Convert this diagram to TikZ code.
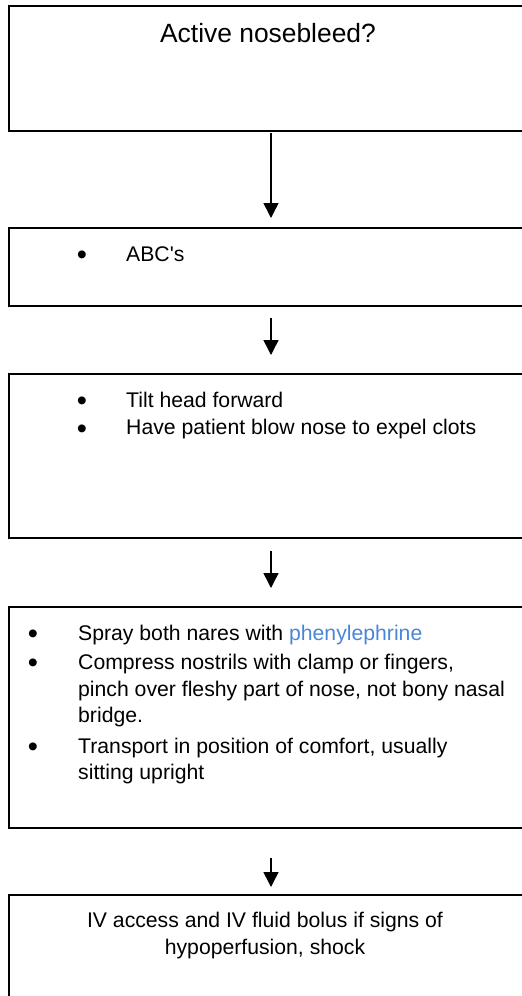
\documentclass[tikz,border=0pt]{standalone}
\usepackage{fontspec}
\setmainfont{Liberation Sans}[Ligatures=TeXOff]
\usetikzlibrary{arrows.meta}
\definecolor{linkblue}{RGB}{74,134,216}
\tikzset{
  flowbox/.style={draw=black, line width=1.5pt, rectangle, inner sep=0pt, minimum width=522pt},
  body/.style={inner sep=0pt, font=\fontsize{21.2}{26}\selectfont, anchor=base west},
  bodyc/.style={inner sep=0pt, font=\fontsize{21.2}{26}\selectfont, anchor=base},
  titletext/.style={inner sep=0pt, font=\fontsize{26.4}{30}\selectfont, anchor=base},
  bul/.style={inner sep=0pt, font=\fontsize{29}{30}\selectfont, anchor=base, yshift=-3.5pt},
  flowarrow/.style={line width=1.5pt, -{Triangle[width=15pt,length=15pt]}}
}
\begin{document}
\begin{tikzpicture}[x=1pt,y=-1pt]
\useasboundingbox (0,0) rectangle (522,996);
\clip (0,0) rectangle (522,996);
% boxes
\node[flowbox, minimum height=125pt] (b1) at (270,68.5) {};
\node[flowbox, minimum height=78pt] (b2) at (270,267) {};
\node[flowbox, minimum height=164pt] (b3) at (270,456) {};
\node[flowbox, minimum height=221pt] (b4) at (270,717.5) {};
\node[flowbox, minimum height=130pt] (b5) at (270,960) {};
% texts
\node[titletext] (t1) at (268,42.7) {Active nosebleed?};
\node[bul] (u2a) at (82,261) {•};
\node[body] (t2a) at (126,261) {ABC's};
\node[bul] (u3a) at (82,407) {•};
\node[body] (t3a) at (126,407) {Tilt head forward};
\node[bul] (u3b) at (82,434.5) {•};
\node[body] (t3b) at (126,434.5) {Have patient blow nose to expel clots};
\node[bul] (u4a) at (33,640) {•};
\node[body] (t4a) at (78,640) {Spray both nares with \textcolor{linkblue}{phenylephrine}};
\node[bul] (u4b) at (33,669) {•};
\node[body] (t4b) at (78,669) {Compress nostrils with clamp or fingers,};
\node[body] (t4c) at (78,696) {pinch over fleshy part of nose, not bony nasal};
\node[body] (t4d) at (78,722) {bridge.};
\node[bul] (u4e) at (33,753) {•};
\node[body] (t4e) at (78,753) {Transport in position of comfort, usually};
\node[body] (t4f) at (78,779) {sitting upright};
\node[bodyc] (t5a) at (265,927) {IV access and IV fluid bolus if signs of};
\node[bodyc] (t5b) at (265,954) {hypoperfusion, shock};
% arrows
\coordinate (a1s) at (271,133);
\coordinate (a1e) at (271,218);
\coordinate (a2s) at (271,318);
\coordinate (a2e) at (271,355);
\coordinate (a3s) at (271,551);
\coordinate (a3e) at (271,588);
\coordinate (a4s) at (271,858);
\coordinate (a4e) at (271,887);
\draw[flowarrow] (a1s) -- (a1e);
\draw[flowarrow] (a2s) -- (a2e);
\draw[flowarrow] (a3s) -- (a3e);
\draw[flowarrow] (a4s) -- (a4e);
\end{tikzpicture}
\end{document}
